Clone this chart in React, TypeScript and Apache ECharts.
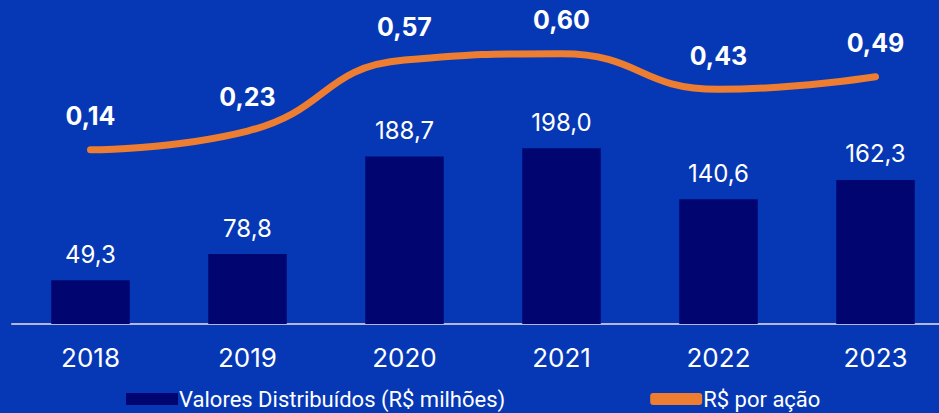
import React, { useEffect, useRef } from "react";
import * as echarts from "echarts";

const years = ["2018", "2019", "2020", "2021", "2022", "2023"];
const valoresDistribuidos = [49.3, 78.8, 188.7, 198.0, 140.6, 162.3];
const porAcao = [0.14, 0.23, 0.57, 0.6, 0.43, 0.49];
const barName = "Valores Distribuídos (R$ milhões)";
const lineName = "R$ por ação";

const fmt = (v: number, d: number) => v.toFixed(d).replace(".", ",");

export default function App() {
  const ref = useRef<HTMLDivElement>(null);
  useEffect(() => {
    if (!ref.current) return;
    const chart = echarts.init(ref.current, undefined, { renderer: "svg" });
    chart.setOption({
      animation: false,
      backgroundColor: "#0638b5",
      textStyle: { fontFamily: "Inter" },
      grid: { left: 12, right: 6, top: 24, bottom: 89 },
      legend: {
        left: 126,
        top: 387,
        padding: 0,
        itemWidth: 52,
        itemHeight: 12,
        itemGap: 145,
        textStyle: { color: "#ffffff", fontSize: 22, lineHeight: 24, fontFamily: "Roboto", padding: [0, 0, 0, -4] },
        data: [
          { name: barName, icon: "rect", itemStyle: { color: "#000570" } },
          { name: lineName, icon: "roundRect", itemStyle: { color: "#ed7d31" } },
        ],
      },
      xAxis: {
        type: "category",
        data: years,
        axisLine: { show: true, lineStyle: { color: "#b3b6e0", width: 2 } },
        axisTick: { show: false },
        axisLabel: { color: "#ffffff", fontSize: 26, margin: 20 },
      },
      yAxis: [
        { type: "value", min: 0, max: 338, show: false, splitLine: { show: false } },
        { type: "value", min: -0.695, max: 0.743, show: false, splitLine: { show: false } },
      ],
      series: [
        {
          name: barName,
          type: "bar",
          data: valoresDistribuidos,
          barWidth: "50%",
          itemStyle: { color: "#000570" },
          label: {
            show: true,
            position: "top",
            distance: 14,
            color: "#ffffff",
            fontSize: 24,
            formatter: (p: any) => fmt(p.value, 1),
          },
        },
        {
          name: lineName,
          type: "line",
          yAxisIndex: 1,
          data: porAcao,
          smooth: 0.5,
          showSymbol: true,
          symbol: "circle",
          symbolSize: 0.1,
          clip: false,
          lineStyle: { color: "#ed7d31", width: 7, cap: "round" },
          itemStyle: { color: "#ed7d31" },
          label: {
            show: true,
            position: "top",
            distance: 21,
            color: "#ffffff",
            fontSize: 25,
            fontWeight: "bold",
            formatter: (p: any) => fmt(p.value, 2),
          },
        },
      ],
    });
    return () => chart.dispose();
  }, []);
  return (
    <div style={{ position: "fixed", left: 0, top: 0, width: 939, height: 413, overflow: "hidden" }}>
      <div ref={ref} style={{ width: 960, height: 413 }} />
    </div>
  );
}
